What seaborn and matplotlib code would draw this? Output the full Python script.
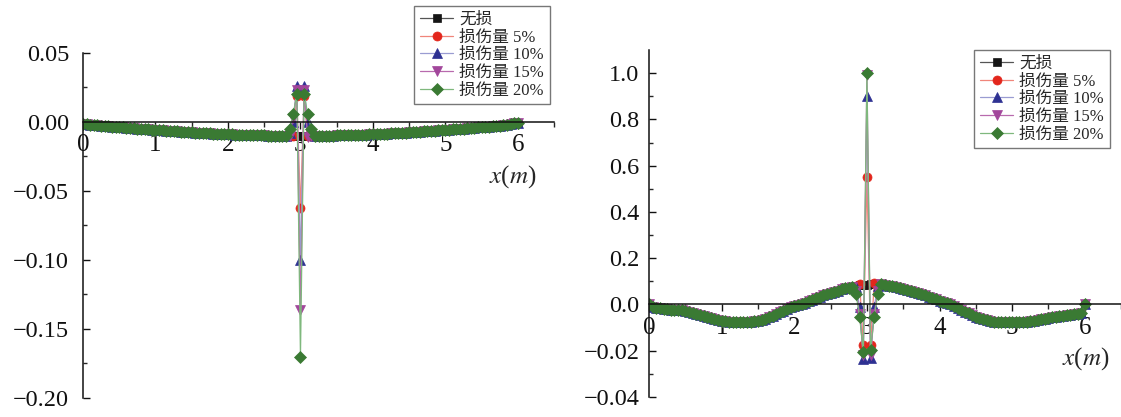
import numpy as np
import matplotlib
matplotlib.use("Agg")
import matplotlib.pyplot as plt
from matplotlib.ticker import FixedLocator, MultipleLocator
import seaborn as sns

# sampling positions along the beam (m)
x_pos = np.linspace(0, 6, 121)

labels = ["无损", "损伤量 5%", "损伤量 10%", "损伤量 15%", "损伤量 20%"]

# left panel: common curve, step 0.05 m
left_base = [
    -0.0015, -0.0017, -0.0019, -0.0022, -0.0024, -0.0026, -0.0028, -0.0030, -0.0033, -0.0035,
    -0.0037, -0.0039, -0.0041, -0.0043, -0.0045, -0.0048, -0.0050, -0.0052, -0.0054, -0.0056,
    -0.0058, -0.0059, -0.0061, -0.0063, -0.0065, -0.0067, -0.0068, -0.0070, -0.0072, -0.0074,
    -0.0075, -0.0077, -0.0078, -0.0080, -0.0081, -0.0082, -0.0084, -0.0085, -0.0086, -0.0087,
    -0.0089, -0.0090, -0.0091, -0.0092, -0.0093, -0.0094, -0.0094, -0.0095, -0.0096, -0.0096,
    -0.0097, -0.0098, -0.0098, -0.0099, -0.0099, -0.0099, -0.0100, -0.0100, -0.0100, -0.0100,
    -0.0100,
    -0.0100, -0.0100, -0.0100, -0.0100, -0.0099, -0.0099, -0.0099, -0.0098, -0.0098, -0.0097,
    -0.0096, -0.0096, -0.0095, -0.0094, -0.0094, -0.0093, -0.0092, -0.0091, -0.0090, -0.0089,
    -0.0087, -0.0086, -0.0085, -0.0084, -0.0082, -0.0081, -0.0080, -0.0078, -0.0077, -0.0075,
    -0.0074, -0.0072, -0.0070, -0.0068, -0.0067, -0.0065, -0.0063, -0.0061, -0.0059, -0.0058,
    -0.0056, -0.0054, -0.0052, -0.0050, -0.0048, -0.0045, -0.0043, -0.0041, -0.0039, -0.0037,
    -0.0035, -0.0033, -0.0030, -0.0028, -0.0026, -0.0024, -0.0021, -0.0015, -0.0010, -0.0006,
]

# values that differ near the damage at x = 3 m
left_spike = [
    {},
    {2.9: -0.0105, 2.95: 0.019, 3.0: -0.062, 3.05: 0.019, 3.1: -0.0105},
    {2.85: -0.008, 2.9: 0.0, 2.95: 0.026, 3.0: -0.100, 3.05: 0.026, 3.1: 0.0, 3.15: -0.008},
    {2.9: 0.003, 2.95: 0.023, 3.0: -0.136, 3.05: 0.023, 3.1: -0.011},
    {2.85: -0.005, 2.9: 0.006, 2.95: 0.020, 3.0: -0.170, 3.05: 0.020, 3.1: 0.006, 3.15: -0.005},
]

# right panel: common curve
right_base = [
    0.0, -0.0012, -0.0015, -0.0017, -0.0019, -0.0021, -0.0023, -0.0024, -0.0025, -0.0026,
    -0.0028, -0.0031, -0.0035, -0.0040, -0.0045, -0.0050, -0.0055, -0.0060, -0.0064, -0.0067,
    -0.0070, -0.0072, -0.0074, -0.0075, -0.0076, -0.0077, -0.0077, -0.0076, -0.0075, -0.0073,
    -0.0070, -0.0066, -0.0061, -0.0055, -0.0048, -0.0041, -0.0034, -0.0027, -0.0020, -0.0013,
    -0.0007, -0.0002, 0.002, 0.008, 0.014, 0.020, 0.027, 0.033, 0.039, 0.045,
    0.050, 0.055, 0.060, 0.065, 0.069, 0.073, 0.077, 0.080, 0.083, 0.085,
    0.086, 0.087, 0.088, 0.088, 0.087, 0.084, 0.081, 0.078, 0.075, 0.071,
    0.067, 0.062, 0.058, 0.053, 0.049, 0.044, 0.039, 0.034, 0.029, 0.023,
    0.017, 0.011, 0.005, 0.0, -0.0008, -0.0016, -0.0024, -0.0032, -0.0039, -0.0046,
    -0.0053, -0.0059, -0.0064, -0.0068, -0.0072, -0.0074, -0.0076, -0.0077, -0.0077, -0.0078,
    -0.0078, -0.0077, -0.0077, -0.0076, -0.0074, -0.0072, -0.0070, -0.0067, -0.0064, -0.0061,
    -0.0058, -0.0055, -0.0053, -0.0051, -0.0049, -0.0047, -0.0045, -0.0043, -0.0040, -0.0036,
    0.0,
]

right_spike = [
    {},
    {2.9: 0.090, 2.95: -0.0175, 3.0: 0.55, 3.05: -0.0175, 3.1: 0.092},
    {2.85: 0.075, 2.9: -0.001, 2.95: -0.0234, 3.0: 0.90, 3.05: -0.0232, 3.1: -0.001, 3.15: 0.078},
    {2.85: 0.060, 2.9: -0.004, 2.95: -0.022, 3.0: 0.99, 3.05: -0.022, 3.1: -0.004, 3.15: 0.060},
    {2.85: 0.045, 2.9: -0.0055, 2.95: -0.0205, 3.0: 1.00, 3.05: -0.0195, 3.1: -0.0055, 3.15: 0.045},
]

x_ticks = [0, 1, 2, 3, 4, 5, 6]
left_yticks = [-0.20, -0.15, -0.10, -0.05, 0.0, 0.05]
left_yticklabels = ["\u22120.20", "\u22120.15", "\u22120.10", "\u22120.05", "0.00", "0.05"]
right_yticks = [-0.04, -0.02, 0.0, 0.2, 0.4, 0.6, 0.8, 1.0]
right_yticklabels = ["\u22120.04", "\u22120.02", "0.0", "0.2", "0.4", "0.6", "0.8", "1.0"]
right_yminor = [-0.03, -0.01, 0.1, 0.3, 0.5, 0.7, 0.9]

markers = ["s", "o", "^", "v", "D"]
marker_sizes = [5.5, 6.5, 7, 7, 6]
mark_colors = ["#151515", "#e3261c", "#2e3192", "#a2469b", "#3a7a33"]
line_colors = ["#555555", "#f0857a", "#9a9cd2", "#b86aae", "#7fb87d"]

sns.set_style("ticks")
plt.rcParams["font.family"] = ["Liberation Serif", "Noto Sans CJK SC"]
plt.rcParams["mathtext.fontset"] = "stix"


def build(base, spikes):
    y = np.array(base, dtype=float)
    for xv, v in spikes.items():
        y[np.isclose(x_pos, xv)] = v
    return y


def fwd(y):
    y = np.asarray(y, dtype=float)
    return np.where(y < 0, y * 10, y)


def inv(y):
    y = np.asarray(y, dtype=float)
    return np.where(y < 0, y / 10, y)


fig = plt.figure(figsize=(11.21, 4.17), dpi=100)
ax1 = fig.add_axes([0.0740, 0.0456, 0.4204, 0.8273])
ax2 = fig.add_axes([0.5790, 0.0480, 0.4211, 0.8321])
ax2.set_yscale("function", functions=(fwd, inv))

for ax, base, spikes in [(ax1, left_base, left_spike), (ax2, right_base, right_spike)]:
    for i, lab in enumerate(labels):
        y = build(base, spikes[i])
        sns.lineplot(x=x_pos, y=y, ax=ax, label=lab, color=line_colors[i],
                     marker=markers[i], markersize=marker_sizes[i],
                     markerfacecolor=mark_colors[i], markeredgecolor=mark_colors[i],
                     markeredgewidth=0.5, linewidth=0.9, sort=False)

    ax.set_xlim(0, 6.5)
    ax.set_xticks(x_ticks, labels=[str(t) for t in x_ticks])
    ax.xaxis.set_minor_locator(MultipleLocator(0.5))
    ax.spines["bottom"].set_position(("data", 0))
    ax.spines["top"].set_visible(False)
    ax.spines["right"].set_visible(False)
    for s in ["bottom", "left"]:
        ax.spines[s].set_linewidth(1.1)
        ax.spines[s].set_color("#111111")
    ax.tick_params(axis="x", which="major", direction="out", length=5, width=1, pad=4,
                   labelsize=18, colors="#111111")
    ax.tick_params(axis="x", which="minor", direction="out", length=3.5, width=1)
    ax.tick_params(axis="y", which="major", direction="in", length=5, width=1,
                   labelsize=17.5, colors="#111111")
    ax.tick_params(axis="y", which="minor", direction="in", length=3, width=1)
    ax.set_ylabel("")

ax1.set_ylim(-0.20, 0.05)
ax1.set_yticks(left_yticks, labels=left_yticklabels)
ax1.yaxis.set_minor_locator(MultipleLocator(0.025))
ax1.tick_params(axis="y", pad=10)
ax1.set_xlabel(r"$x$($m$)", fontsize=18)
ax1.xaxis.set_label_coords(0.912, 0.681)

ax2.set_ylim(-0.04, 1.1)
ax2.set_yticks(right_yticks, labels=right_yticklabels)
ax2.yaxis.set_minor_locator(FixedLocator(right_yminor))
ax2.tick_params(axis="y", pad=7)
ax2.set_xlabel(r"$x$($m$)", fontsize=18)
ax2.xaxis.set_label_coords(0.924, 0.150)

for ax, anchor in [(ax1, (414 / 1121, 1 - 6 / 417)), (ax2, (974 / 1121, 1 - 50 / 417))]:
    leg = ax.legend(loc="upper left", bbox_to_anchor=anchor, bbox_transform=fig.transFigure,
                    frameon=True, fancybox=False, framealpha=1, edgecolor="#777777",
                    fontsize=12, labelspacing=0.1, handlelength=2.0, handletextpad=0.35,
                    borderpad=0.35, borderaxespad=0)
    leg.get_frame().set_linewidth(1.0)

fig.savefig("out.png", dpi=100)
